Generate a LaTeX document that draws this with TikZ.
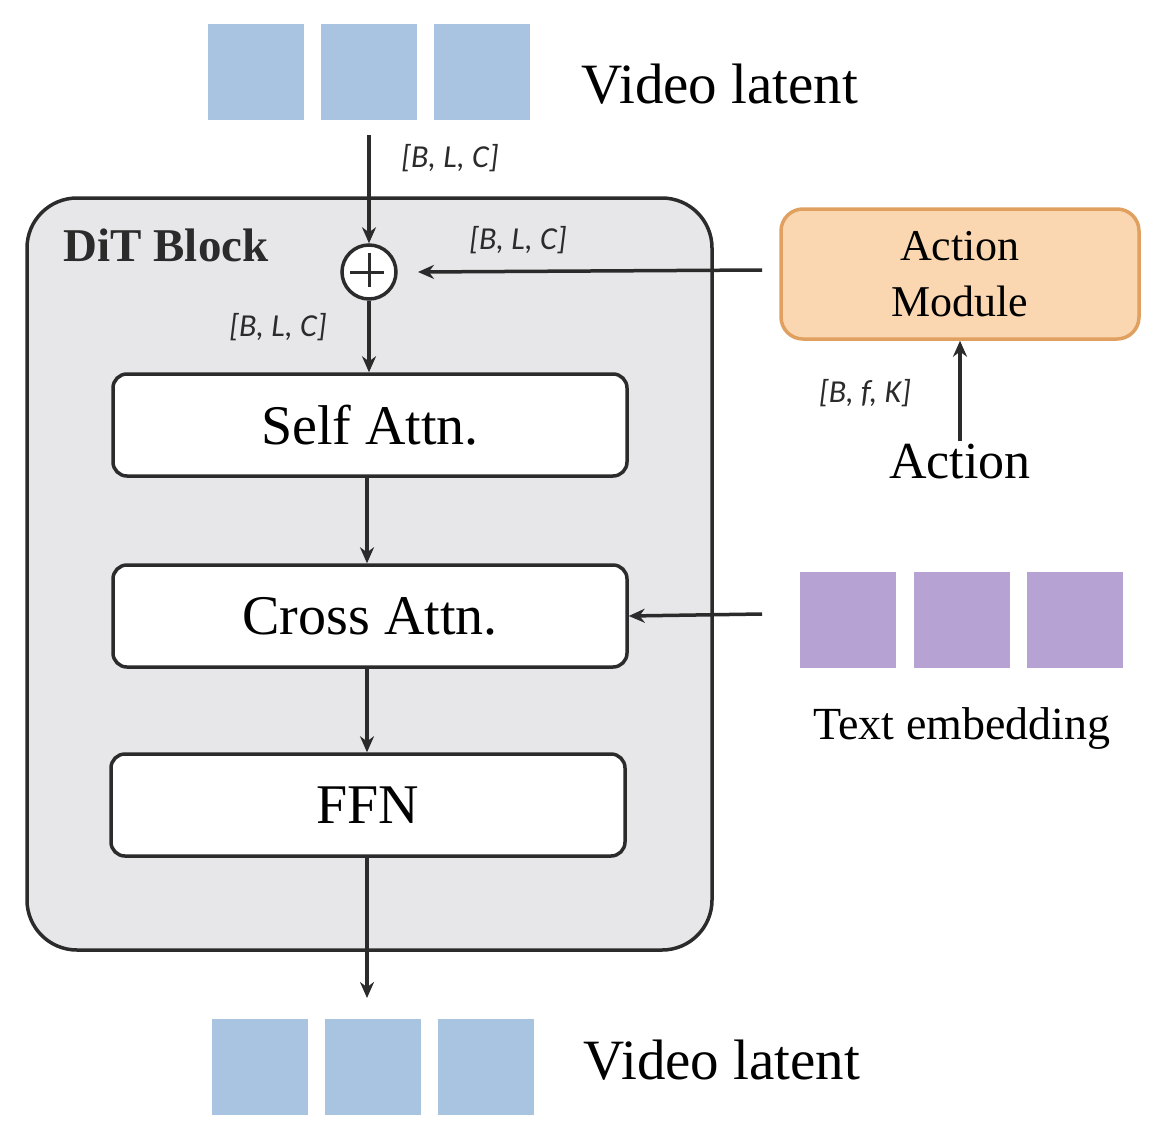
\documentclass[tikz,border=0pt]{standalone}
\usepackage{fontspec}
\setmainfont{Liberation Serif}
\newfontfamily\lblfont{Carlito}
\usetikzlibrary{arrows.meta}
\definecolor{latentblue}{HTML}{A9C4E0}
\definecolor{textpurple}{HTML}{B7A3D3}
\definecolor{blockgray}{HTML}{E7E7EA}
\definecolor{linedark}{HTML}{2B2B2B}
\definecolor{actfill}{HTML}{FAD7B0}
\definecolor{actedge}{HTML}{E0A060}
\tikzset{
  layerbox/.style={draw=linedark,line width=3.5pt,rounded corners=14pt,fill=white,
    minimum width=514pt,minimum height=102pt,font=\fontsize{56}{60}\selectfont},
  flow/.style={draw=linedark,line width=3.5pt,-{Stealth[length=16pt,width=14pt]}},
  dimlabel/.style={font=\lblfont\itshape\fontsize{32}{36}\selectfont,text=linedark},
  tokenblue/.style={fill=latentblue,minimum size=96pt,inner sep=0pt},
  tokenpurple/.style={fill=textpurple,minimum size=96pt,inner sep=0pt}
}
\begin{document}
\begin{tikzpicture}[x=1pt,y=-1pt]
     \useasboundingbox (0,0) rectangle (1166,1140);

     % DiT block frame
     \draw[draw=linedark,fill=blockgray,line width=3.5pt,rounded corners=50pt]
     (27,198) rectangle (712,950);
     \node[anchor=west,font=\bfseries\fontsize{47}{50}\selectfont,text=linedark] (title) at (60,245) {DiT Block};

     % video latent in / out
     \foreach \x [count=\i] in {256,369,482}
       \node[tokenblue] (in\i) at (\x,72) {};
     \foreach \x [count=\i] in {260,373,486}
       \node[tokenblue] (out\i) at (\x,1067) {};
     \node[anchor=west,font=\fontsize{57}{60}\selectfont] (inlbl) at (578,84) {Video latent};
     \node[anchor=west,font=\fontsize{57}{60}\selectfont] (outlbl) at (580,1060) {Video latent};

     % layers
     \node[draw=linedark,fill=white,line width=3.5pt,circle,minimum size=54pt,inner sep=0pt] (plus) at (369,272) {};
     \draw[linedark,line width=3pt] (plus.north) ++(0,10) -- ++(0,34) (plus.west) ++(10,0) -- ++(34,0);
     \node[layerbox] (self) at (370,425) {Self Attn.};
     \node[layerbox] (cross) at (370,616) {Cross Attn.};
     \node[layerbox] (ffn) at (368,805) {FFN};

     % action branch
     \node[draw=actedge,fill=actfill,line width=3.5pt,rounded corners=22pt,
     minimum width=358pt,minimum height=130pt,align=center,
     font=\fontsize{44}{56}\selectfont] (actmod) at (960,274) {Action\\Module};
     \node[font=\fontsize{52}{56}\selectfont] (act) at (960,462) {Action};

     % text embedding
     \foreach \x [count=\i] in {848,962,1075}
       \node[tokenpurple] (txt\i) at (\x,620) {};
     \node[font=\fontsize{46}{50}\selectfont] (txtlbl) at (962,728) {Text embedding};

     % connections
     \coordinate (topin) at (369,135);
     \coordinate (bottomout) at (367,998);
     \coordinate (actout) at (762,270);
     \coordinate (txtout) at (762,614);
     \draw[flow] (topin) -- (plus.north);
     \draw[flow] (plus.south) -- (plus.south |- self.north);
     \draw[flow] (self.south -| 367,0) -- (cross.north -| 367,0);
     \draw[flow] (cross.south -| 367,0) -- (ffn.north -| 367,0);
     \draw[flow] (ffn.south -| 367,0) -- (bottomout);
     \draw[flow] (actout) -- (plus.east -| 418,0);
     \draw[flow] (txtout) -- (cross.east);
     \draw[flow] (act.north) -- (actmod.south);

     \node[dimlabel] (d1) at (450,158) {[B, L, C]};
     \node[dimlabel] (d2) at (518,240) {[B, L, C]};
     \node[dimlabel] (d3) at (278,327) {[B, L, C]};
     \node[dimlabel] (d4) at (865,393) {[B, f, K]};

     \end{tikzpicture}
\end{document}
